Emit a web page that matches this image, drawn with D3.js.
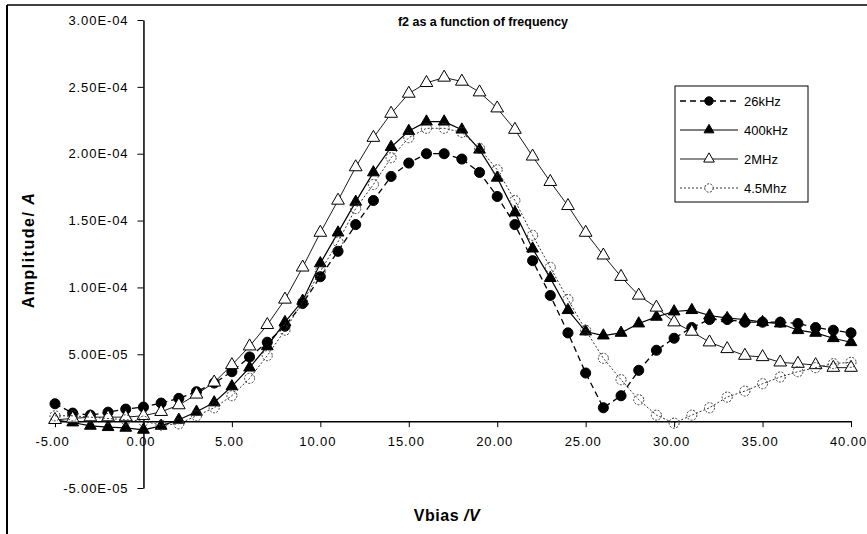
<!DOCTYPE html>
<html>
<head>
<meta charset="utf-8">
<script src="https://cdn.jsdelivr.net/npm/d3@7"></script>
<style>
  html, body { margin: 0; padding: 0; background: #fff; }
  svg { display: block; font-family: "Liberation Sans", Arial, sans-serif; }
</style>
</head>
<body>
<svg id="chart" width="867" height="534"></svg>
<script>
// ---- Data (amplitudes in units of 1e-5 A) ----
const UNIT = 1e-5;
const vbias = [-5,-4,-3,-2,-1,0,1,2,3,4,5,6,7,8,9,10,11,12,13,14,15,16,17,18,19,20,
               21,22,23,24,25,26,27,28,29,30,31,32,33,34,35,36,37,38,39,40];
const amp26kHz = [1.3,0.6,0.45,0.67,0.9,1.05,1.35,1.7,2.2,2.85,
                  3.7,4.8,5.9,7.1,8.8,10.8,12.7,14.7,
                  16.5,18.3,19.3,20.0,20.0,19.6,18.6,16.8,14.7,12.0,
                  9.4,6.6,3.6,1.0,1.9,3.8,5.3,6.2,
                  7.0,7.6,7.6,7.4,7.4,7.4,7.3,7.0,6.8,6.6];
const amp400kHz = [0.1,-0.1,-0.35,-0.45,-0.5,-0.65,-0.35,0.1,0.7,1.4,
                   2.6,4.0,5.6,7.4,9.0,11.8,14.1,16.4,
                   18.6,20.5,21.7,22.4,22.4,21.8,20.3,18.2,15.6,12.9,
                   10.7,8.3,6.7,6.4,6.6,7.3,7.8,8.2,
                   8.3,7.9,7.7,7.6,7.4,7.3,6.8,6.6,6.2,5.9];
const amp2MHz = [0.1,0.2,0.3,0.3,0.3,0.4,0.7,1.2,2.0,2.9,
                 4.2,5.6,7.2,9.1,11.5,14.1,16.5,19.0,
                 21.2,23.0,24.5,25.3,25.7,25.4,24.6,23.4,21.8,19.8,
                 17.9,16.1,14.1,12.4,10.8,9.4,8.5,7.4,
                 6.7,5.9,5.4,4.9,4.8,4.4,4.3,4.2,4.0,4.0];
const amp4_5MHz = [0.4,0.4,0.3,0.2,0.1,0.0,-0.3,-0.2,0.4,1.0,
                   1.9,3.2,4.9,6.8,8.9,11.2,13.4,15.9,
                   17.7,19.7,21.2,21.9,21.9,21.6,20.4,18.8,16.5,13.9,
                   11.5,9.1,6.8,4.7,3.1,1.6,0.45,-0.15,
                   0.45,1.0,1.8,2.25,2.8,3.3,3.7,4.0,4.3,4.4];
const seriesNames = ["26kHz", "400kHz", "2MHz", "4.5Mhz"];
const xTickValues = [-5,0,5,10,15,20,25,30,35,40];
const xTickLabels = ["-5.00","0.00","5.00","10.00","15.00","20.00","25.00","30.00","35.00","40.00"];
const yTickValues = [-5e-5,5e-5,1e-4,1.5e-4,2e-4,2.5e-4,3e-4];
const yTickLabels = ["-5.00E-05","5.00E-05","1.00E-04","1.50E-04","2.00E-04","2.50E-04","3.00E-04"];
const chartTitle = "f2 as a function of frequency";

// ---- Layout ----
const svg = d3.select("#chart");
const x = d3.scaleLinear().domain([-5, 40]).range([55, 851]);
const y = d3.scaleLinear().domain([-5e-5, 3e-4]).range([488, 20]);

// outer frame (cropped border)
svg.append("line").attr("x1", 7).attr("x2", 867).attr("y1", 5).attr("y2", 5)
   .attr("stroke", "#000").attr("stroke-width", 1.5);
svg.append("line").attr("x1", 7).attr("x2", 7).attr("y1", 5).attr("y2", 534)
   .attr("stroke", "#000").attr("stroke-width", 2);

// axes
const yAxis = d3.axisLeft(y).tickValues(yTickValues)
  .tickFormat((d, i) => yTickLabels[i]).tickSize(6).tickSizeOuter(0).tickPadding(9);
const gy = svg.append("g").attr("transform", `translate(${x(0)},0)`).call(yAxis);
const xAxis = d3.axisBottom(x).tickValues(xTickValues)
  .tickFormat((d, i) => xTickLabels[i]).tickSize(6).tickSizeOuter(0).tickPadding(10);
const gx = svg.append("g").attr("transform", `translate(0,${y(0)})`).call(xAxis);
[gx, gy].forEach(g => {
  g.selectAll("path.domain").attr("stroke", "#000").attr("stroke-width", 1.5);
  g.selectAll(".tick line").attr("stroke", "#000").attr("stroke-width", 1);
  g.selectAll(".tick text").attr("fill", "#000").style("font-size", "13px")
   .style("font-family", "'Liberation Sans', Arial, sans-serif").style("letter-spacing", "0.9px");
});
gx.selectAll(".tick text").attr("dx", "-3");

// titles
svg.append("text").attr("x", 483).attr("y", 26).attr("text-anchor", "middle")
  .style("font-size", "12.5px").style("font-weight", "bold").text(chartTitle);
const xt = svg.append("text").attr("x", 447).attr("y", 521).attr("text-anchor", "middle")
  .style("font-size", "16px").style("font-weight", "bold").style("letter-spacing", "0.5px");
xt.append("tspan").text("Vbias ");
xt.append("tspan").style("font-style", "italic").text("/V");
const yt = svg.append("text").attr("transform", "translate(34,250) rotate(-90)")
  .attr("text-anchor", "middle").style("font-size", "16px").style("font-weight", "bold")
  .style("letter-spacing", "1.5px");
yt.append("tspan").text("Amplitude/ ");
yt.append("tspan").style("font-style", "italic").text("A");

// series
const styles = [
  { data: amp26kHz, dash: "6,4", width: 1.3, color: "#000", sym: d3.symbolCircle, size: 80, fill: "#000", mstroke: "#000", mdash: null },
  { data: amp400kHz, dash: null, width: 1.2, color: "#000", sym: d3.symbolTriangle, size: 60, fill: "#000", mstroke: "#000", mdash: null },
  { data: amp2MHz, dash: null, width: 0.9, color: "#000", sym: d3.symbolTriangle, size: 70, fill: "#fff", mstroke: "#000", mdash: null },
  { data: amp4_5MHz, dash: "2,2", width: 1, color: "#333", sym: d3.symbolCircle, size: 80, fill: "none", mstroke: "#333", mdash: "2,1.5" }
];
const line = d3.line().x(d => x(d[0])).y(d => y(d[1] * UNIT));
const plot = svg.append("g");
styles.forEach((s, k) => {
  const pts = vbias.map((v, i) => [v, s.data[i]]);
  plot.append("path").datum(pts).attr("d", line).attr("fill", "none")
    .attr("stroke", s.color).attr("stroke-width", s.width)
    .attr("stroke-dasharray", s.dash);
  plot.append("g").selectAll("path").data(pts).join("path")
    .attr("transform", d => `translate(${x(d[0])},${y(d[1] * UNIT)})`)
    .attr("d", d3.symbol().type(s.sym).size(s.size))
    .attr("fill", s.fill).attr("stroke", s.mstroke).attr("stroke-width", 1)
    .attr("stroke-dasharray", s.mdash);
});

// legend
const lg = svg.append("g");
lg.append("rect").attr("x", 675).attr("y", 86).attr("width", 133).attr("height", 116)
  .attr("fill", "#fff").attr("stroke", "#000").attr("stroke-width", 1);
const rowY = [101, 130, 159, 188];
styles.forEach((s, k) => {
  const yy = rowY[k];
  lg.append("line").attr("x1", 680).attr("x2", 738).attr("y1", yy).attr("y2", yy)
    .attr("stroke", s.color).attr("stroke-width", s.width).attr("stroke-dasharray", s.dash);
  lg.append("path").attr("transform", `translate(709,${yy})`)
    .attr("d", d3.symbol().type(s.sym).size(s.size * 0.7))
    .attr("fill", s.fill === "none" ? "#fff" : s.fill).attr("stroke", s.mstroke)
    .attr("stroke-dasharray", s.mdash);
  lg.append("text").attr("x", 744).attr("y", yy + 5).style("font-size", "13px")
    .text(seriesNames[k]);
});
</script>
</body>
</html>
